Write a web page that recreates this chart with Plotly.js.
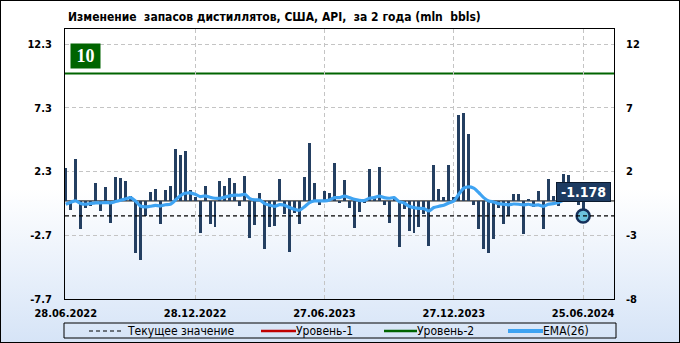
<!DOCTYPE html>
<html>
<head>
<meta charset="utf-8">
<script src="https://cdn.plot.ly/plotly-3.0.1.min.js"></script>
<style>
  html, body { margin: 0; padding: 0; }
  #chart {
    width: 680px; height: 343px; box-sizing: border-box;
    border: 1px solid #000;
    background: linear-gradient(to bottom, #ffffff 0%, #ffffff 55%, #d6e4f7 100%);
  }
</style>
</head>
<body>
<div id="chart"></div>
<script>
// ---- data ----
const titleText = "Изменение\u00a0\u00a0запасов дистиллятов, США, API,\u00a0\u00a0за 2 года (mln\u00a0\u00a0bbls)";
const tickDates = ["28.06.2022", "28.12.2022", "27.06.2023", "27.12.2023", "25.06.2024"];
const tickIndex = [0, 26, 52, 78, 104];
const changes = [
  2.6, -0.73, 3.28, -2.23, -0.58, -0.42, 1.39, -0.81, 1.08, -1.76,
  1.86, 1.78, 1.55, 0.42, -4.12, -4.67, -1.21, 0.71, 0.92, -1.84,
  0.84, 1.15, 4.07, 3.62, 3.91, 0.84, 0.3, -2.49, 1.15, -1.84,
  -2.02, 1.55, 1.15, 1.78, 1.39, -0.42, 1.94, -2.94, -1.92, 0.60,
  -3.81, -2.07, -2.0, 1.71, -1.05, -4.04, -0.97, -1.84, 1.86, 4.54,
  1.39, -0.34, 0.76, 0.60, 2.97, -0.18, 1.63, -0.58, -2.15, -0.89,
  -0.18, 2.49, 0.34, 2.65, -0.34, -1.76, 0.34, -3.65, -0.66, -2.39,
  -2.55, -2.07, -1.05, -3.57, 2.81, 0.92, 0.29, 2.81, 0.29, 6.75,
  6.9, 5.25, -0.34, -2.23, -3.81, -4.12, -3.02, -0.58, -1.84, -1.21,
  0.52, 0.52, -2.62, 0.13, -0.47, 0.79, -2.23, 1.71, 0.37, -0.42,
  2.1, 2.02, 0.6, -0.3, -1.178
];
const ema26 = [
  -0.26, -0.1, 0.0, -0.2, -0.26, -0.2, -0.15, -0.15, -0.13, -0.15,
  -0.05, 0.05, 0.15, 0.26, 0.0, -0.4, -0.47, -0.42, -0.35, -0.4,
  -0.3, -0.26, 0.05, 0.4, 0.6, 0.63, 0.52, 0.34, 0.4, 0.29,
  0.21, 0.21, 0.3, 0.4, 0.45, 0.45, 0.52, 0.18, 0.08, 0.08,
  -0.21, -0.34, -0.42, -0.29, -0.34, -0.52, -0.66, -0.73, -0.45, -0.13,
  0.0, 0.0, 0.0, 0.08, 0.26, 0.26, 0.37, 0.26, 0.13, 0.05,
  0.03, 0.21, 0.26, 0.37, 0.26, 0.21, 0.26, -0.05, -0.16, -0.42,
  -0.52, -0.58, -0.6, -0.79, -0.52, -0.42, -0.34, -0.16, 0.0, 0.52,
  1.0, 1.1, 1.0, 0.66, 0.26, 0.0, -0.08, -0.21, -0.26, -0.31,
  -0.24, -0.26, -0.31, -0.26, -0.34, -0.31, -0.42, -0.26, -0.21, -0.13,
  0.05, 0.2, 0.22, 0.15, 0.08
];
const level2 = 10;
const leftTicks = [12.3, 7.3, 2.3, -2.7, -7.7];
const rightTicks = [12, 7, 2, -3, -8];
const legendLabels = ["Текущее значение", "Уровень-1", "Уровень-2", "EMA(26)"];

// ---- derived ----
const idx = changes.map((_, i) => i);
const lastI = idx[idx.length - 1];
const lastVal = changes[changes.length - 1];

// pixel -> paper helpers (plot area: x 64..613, y 28..298)
const W = 680, H = 343, L = 64, R = 613, T = 28, B = 298;
const px = v => (v - L) / (R - L);
const py = v => (B - v) / (B - T);

const FONT = "'DejaVu Sans Condensed', 'DejaVu Sans', sans-serif";
const NAVY = "#243f61";
const BLUE = "#3ea3f2";
const GREEN = "#006400";
const RED = "#c00000";

const traces = [
  {
    type: "bar", x: idx, y: changes, width: 0.6,
    marker: { color: NAVY, line: { width: 0 } },
    hoverinfo: "skip", showlegend: false
  },
  {
    type: "scatter", mode: "lines", x: idx, y: ema26,
    line: { color: BLUE, width: 3.2, shape: "spline", smoothing: 0.6 },
    hoverinfo: "skip", showlegend: false
  },
  {
    type: "scatter", mode: "markers", x: [lastI], y: [lastVal],
    marker: { size: 13, color: "#6cc3de", line: { color: "#15305a", width: 2.5 } },
    hoverinfo: "skip", showlegend: false
  },
  {
    type: "scatter", mode: "markers", x: [lastI], y: [lastVal], yaxis: "y2",
    marker: { size: 1, opacity: 0 }, hoverinfo: "skip", showlegend: false
  }
];

const shapes = [
  { type: "line", xref: "paper", x0: 0, x1: 1, yref: "y", y0: 0, y1: 0,
    line: { color: "#000", width: 1 }, layer: "between" },
  { type: "line", xref: "paper", x0: 0, x1: 1, yref: "y", y0: level2, y1: level2,
    line: { color: GREEN, width: 2 }, layer: "between" },
  { type: "line", xref: "paper", x0: 0, x1: 1, yref: "y", y0: lastVal, y1: lastVal,
    line: { color: "#000", width: 1.2, dash: "4px,3px" }, layer: "above" },
  // legend frame
  { type: "rect", xref: "paper", yref: "paper", x0: px(63), x1: px(615), y0: py(322), y1: py(337),
    line: { color: "#000", width: 1 }, fillcolor: "rgba(0,0,0,0)" },
  { type: "line", xref: "paper", yref: "paper", x0: px(88), x1: px(122), y0: py(330), y1: py(330),
    line: { color: "#000", width: 1, dash: "4px,3px" } },
  { type: "line", xref: "paper", yref: "paper", x0: px(260), x1: px(295), y0: py(330), y1: py(330),
    line: { color: RED, width: 2.5 } },
  { type: "line", xref: "paper", yref: "paper", x0: px(383), x1: px(416), y0: py(330), y1: py(330),
    line: { color: GREEN, width: 2.5 } },
  { type: "line", xref: "paper", yref: "paper", x0: px(507), x1: px(542), y0: py(330), y1: py(330),
    line: { color: BLUE, width: 4 } }
];

const legendX = [124, 293, 414, 540];
const annotations = legendLabels.map((t, k) => ({
  xref: "paper", yref: "paper", x: px(legendX[k]), y: py(330),
  xanchor: "left", yanchor: "middle", showarrow: false, text: t,
  font: { family: FONT, size: 12, color: "#000" }
}));
annotations.push({
  xref: "x", yref: "y", x: lastI, y: lastVal, yshift: 24,
  xanchor: "center", yanchor: "middle", showarrow: false,
  text: "<b>" + lastVal.toFixed(3) + "</b>",
  font: { family: FONT, size: 14, color: "#fff" },
  bgcolor: "#1d3b61", bordercolor: "#0b1a2e", borderwidth: 1, borderpad: 1,
  width: 51, height: 16
});
annotations.push({
  xref: "paper", yref: "y", x: 0, xshift: 5, y: level2, yshift: 5,
  xanchor: "left", yanchor: "bottom", showarrow: false,
  text: "<b>" + level2 + "</b>",
  font: { family: "'Liberation Serif', serif", size: 18, color: "#fff" },
  bgcolor: GREEN, width: 29, height: 24, borderpad: 0
});

const axisFont = { family: FONT, size: 11, color: "#000", weight: "bold" };

const layout = {
  width: W, height: H,
  margin: { l: L, r: W - R, t: T, b: H - B, pad: 0 },
  paper_bgcolor: "rgba(0,0,0,0)", plot_bgcolor: "rgba(0,0,0,0)",
  title: {
    text: "<b>" + titleText + "</b>",
    x: 67 / W, xanchor: "left", xref: "container",
    y: 1 - 16 / H, yanchor: "middle", yref: "container",
    font: { family: FONT, size: 12, color: "#000" }
  },
  showlegend: false,
  bargap: 0,
  xaxis: {
    range: [-0.15, 110.2], tickmode: "array", tickvals: tickIndex, ticktext: tickDates,
    showgrid: true, gridcolor: "#c4c4c4", griddash: "4px,3px", gridwidth: 1,
    zeroline: false, showline: true, mirror: true, linecolor: "#000", linewidth: 1,
    ticks: "", tickfont: axisFont, ticklabelstandoff: 4, fixedrange: true
  },
  yaxis: {
    range: [-7.7, 13.5], tickmode: "array", tickvals: leftTicks,
    ticktext: leftTicks.map(v => v.toFixed(1)),
    showgrid: true, gridcolor: "#c4c4c4", griddash: "4px,3px", gridwidth: 1,
    zeroline: false, showline: true, mirror: true, linecolor: "#000", linewidth: 1,
    ticks: "", tickfont: axisFont, ticklabelstandoff: 10, fixedrange: true
  },
  yaxis2: {
    overlaying: "y", side: "right", range: [-8.0, 13.2],
    tickmode: "array", tickvals: rightTicks, ticktext: rightTicks.map(String),
    showgrid: false, zeroline: false, showline: false,
    ticks: "", tickfont: axisFont, ticklabelstandoff: 11, fixedrange: true
  },
  shapes: shapes,
  annotations: annotations
};

Plotly.newPlot("chart", traces, layout, { staticPlot: true, displayModeBar: false });
</script>
</body>
</html>
